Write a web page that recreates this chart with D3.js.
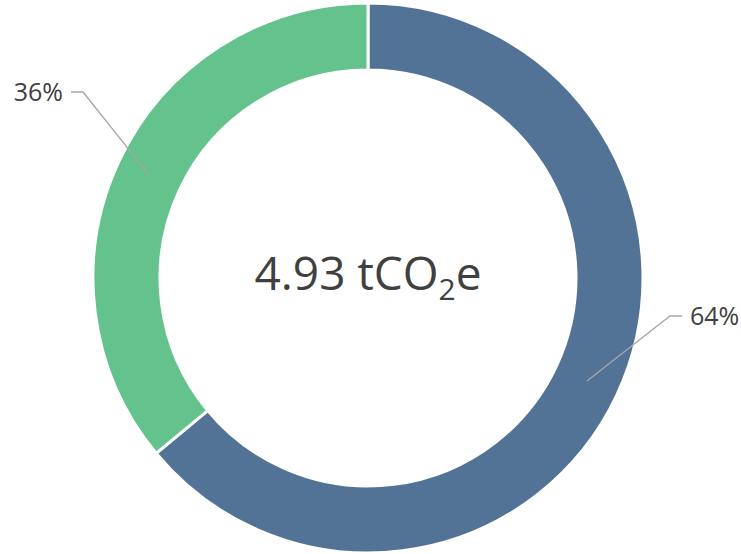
<!DOCTYPE html>
<html><head><meta charset="utf-8">
<script src="https://cdn.jsdelivr.net/npm/d3@7"></script>
<style>html,body{margin:0;padding:0;background:#fff;}svg{display:block;}</style>
</head><body>
<svg id="c" width="741" height="554"></svg>
<script>
const categories = ["A", "B"];
const values = [64, 36];
const labels = ["64%", "36%"];
const colors = ["#527396", "#64C28C"];
const totalValue = "4.93";

const svg = d3.select("#c");
const cx = 368, cy = 278, rOuter = 275, rInner = 208;
const g = svg.append("g").attr("transform", `translate(${cx},${cy})`);
const pie = d3.pie().sort(null).value(d => d)(values);
const arc = d3.arc().innerRadius(rInner).outerRadius(rOuter);
g.selectAll("path").data(pie).enter().append("path")
  .attr("d", arc).attr("fill", (d, i) => colors[i])
  .attr("stroke", "#fff").attr("stroke-width", 3);

// leader lines & labels
const mid = d3.arc().innerRadius(242).outerRadius(242);
const elbows = [[302, 38, 1], [-285, -186, -1]];
pie.forEach((d, i) => {
  const [sx, sy] = mid.centroid(d);
  const [ex, ey, dir] = elbows[i];
  const hx = ex + dir * 12;
  g.append("polyline").attr("points", `${sx},${sy} ${ex},${ey} ${hx},${ey}`)
    .attr("fill", "none").attr("stroke", "#A6A6A6").attr("stroke-width", 1.3);
  g.append("text").attr("x", hx + dir * 8).attr("y", ey)
    .attr("dy", "0.36em").attr("text-anchor", dir > 0 ? "start" : "end")
    .attr("font-family", "Open Sans, sans-serif").attr("font-size", 25)
    .attr("fill", "#404040").text(labels[i]);
});

const t = g.append("text").attr("x", 0).attr("y", 12).attr("text-anchor", "middle")
  .attr("font-family", "Open Sans, sans-serif").attr("font-size", 46).attr("fill", "#404040");
t.append("tspan").text(totalValue + " tCO");
t.append("tspan").attr("font-size", 30).attr("dy", 10).text("2");
t.append("tspan").attr("dy", -10).text("e");
</script>
</body></html>
